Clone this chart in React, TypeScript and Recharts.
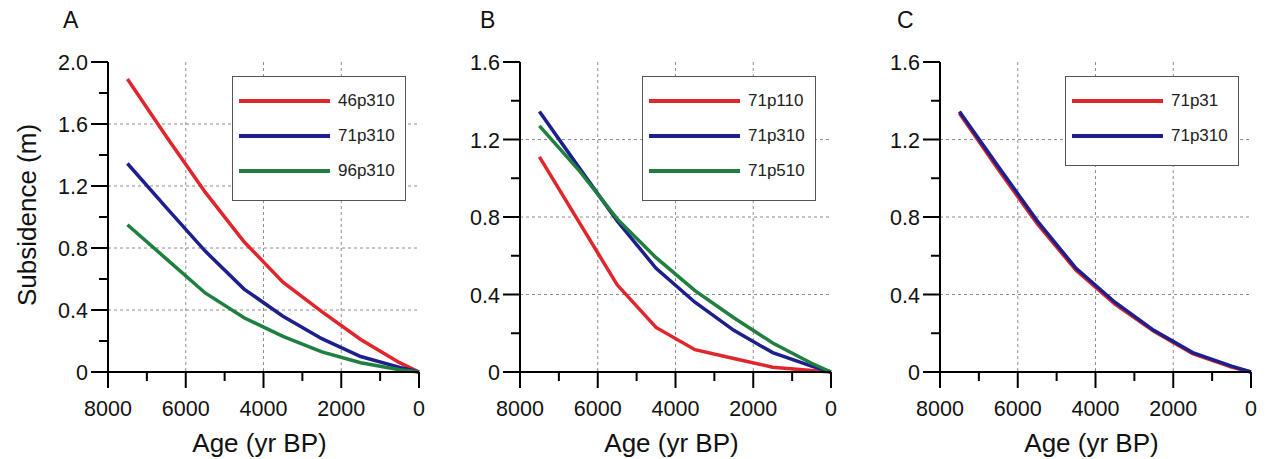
import { CartesianGrid, Label, Legend, Line, LineChart, XAxis, YAxis } from "recharts";

const ages = [7500, 6500, 5500, 4500, 3500, 2500, 1500, 500, 0];

const s46p310 = [1.89, 1.52, 1.16, 0.84, 0.58, 0.39, 0.21, 0.06, 0];
const s71p310 = [1.345, 1.06, 0.78, 0.535, 0.36, 0.215, 0.1, 0.03, 0];
const s96p310 = [0.95, 0.73, 0.51, 0.35, 0.23, 0.13, 0.06, 0.015, 0];
const s71p110 = [1.11, 0.78, 0.45, 0.23, 0.115, 0.07, 0.025, 0.008, 0];
const s71p510 = [1.27, 1.045, 0.79, 0.59, 0.42, 0.28, 0.15, 0.045, 0];
const s71p31 = [1.335, 1.045, 0.765, 0.525, 0.35, 0.21, 0.095, 0.025, 0];

const xTicks = [8000, 7000, 6000, 5000, 4000, 3000, 2000, 1000, 0];
const xGrid = [6000, 4000, 2000];
const yTicksA = [0, 0.2, 0.4, 0.6, 0.8, 1.0, 1.2, 1.4, 1.6, 1.8, 2.0];
const yTicksBC = [0, 0.2, 0.4, 0.6, 0.8, 1.0, 1.2, 1.4, 1.6];
const yGridA = [0.4, 0.8, 1.2, 1.6];
const yGridBC = [0.4, 0.8, 1.2];

const RED = "#e0252b";
const BLUE = "#1c1f8c";
const GREEN = "#1f7f3e";
const FONT = "'Liberation Sans', Arial, sans-serif";

type Series = { name: string; values: number[]; color: string };

function XTick({ x, y, payload }: any) {
  const major = payload.value % 2000 === 0;
  return (
    <g>
      <line x1={x} y1={y} x2={x} y2={y + (major ? 16 : 9)} stroke="#000" strokeWidth={2} />
      {major && (
        <text x={x} y={y + 44} textAnchor="middle" fontSize={21.5} fill="#111" fontFamily={FONT}>
          {payload.value}
        </text>
      )}
    </g>
  );
}

function YTick({ x, y, payload }: any) {
  const v = payload.value;
  const major = Math.round(v * 10) % 4 === 0;
  return (
    <g>
      <line x1={x - (major ? 17 : 9)} y1={y} x2={x} y2={y} stroke="#000" strokeWidth={2} />
      {major && (
        <text x={x - 20} y={y + 8} textAnchor="end" fontSize={21.5} fill="#111" fontFamily={FONT}>
          {v === 0 ? "0" : v.toFixed(1)}
        </text>
      )}
    </g>
  );
}

interface PanelProps {
  letter: string;
  left: number;
  width: number;
  yWidth: number;
  right: number;
  yMax: number;
  yTicks: number[];
  yGrid: number[];
  series: Series[];
  legendLeft: number;
  showYTitle?: boolean;
  letterLeft: number;
}

function Panel(p: PanelProps) {
  const rows = ages.map((age, i) => {
    const row: Record<string, number> = { age };
    p.series.forEach((s) => (row[s.name] = s.values[i]));
    return row;
  });

  const legendContent = () => (
    <div
      style={{
        width: 174,
        boxSizing: "border-box",
        border: "1.5px solid #555",
        background: "#fff",
        padding: "6px 0 12px 0",
        fontFamily: FONT,
      }}
    >
      {p.series.map((s) => (
        <div key={s.name} style={{ height: 35, display: "flex", alignItems: "center" }}>
          <div style={{ width: 91, height: 4, background: s.color, marginLeft: 6 }} />
          <span style={{ marginLeft: 8, fontSize: 17, color: "#222" }}>{s.name}</span>
        </div>
      ))}
    </div>
  );

  return (
    <div style={{ position: "absolute", left: p.left, top: 0 }}>
      <div
        style={{
          position: "absolute",
          left: p.letterLeft,
          top: 9,
          fontSize: 23,
          lineHeight: "23px",
          color: "#111",
          fontFamily: FONT,
        }}
      >
        {p.letter}
      </div>
      <LineChart
        width={p.width}
        height={459}
        data={rows}
        margin={{ top: 62, right: p.right, bottom: 0, left: 0 }}
      >
        <CartesianGrid
          horizontalValues={p.yGrid}
          verticalValues={xGrid}
          stroke="#8c8c8c"
          strokeDasharray="3 3"
        />
        <XAxis
          dataKey="age"
          type="number"
          domain={[0, 8000]}
          reversed
          ticks={xTicks}
          interval={0}
          height={87}
          tickSize={0}
          tickMargin={0}
          tickLine={false}
          tick={<XTick />}
          axisLine={{ stroke: "#000", strokeWidth: 2 }}
        >
          <Label
            content={({ viewBox }: any) => (
              <text
                x={viewBox.x + viewBox.width / 2 - 4}
                y={viewBox.y + 80}
                textAnchor="middle"
                fontSize={26}
                fill="#111"
                fontFamily={FONT}
              >
                Age (yr BP)
              </text>
            )}
          />
        </XAxis>
        <XAxis
          xAxisId="top"
          orientation="top"
          dataKey="age"
          type="number"
          domain={[0, 8000]}
          reversed
          height={0}
          tick={false}
          tickLine={false}
          axisLine={{ stroke: "#000", strokeWidth: 2 }}
        />
        <YAxis
          type="number"
          domain={[0, p.yMax]}
          ticks={p.yTicks}
          interval={0}
          width={p.yWidth}
          tickSize={0}
          tickMargin={0}
          tickLine={false}
          tick={<YTick />}
          axisLine={{ stroke: "#000", strokeWidth: 2 }}
        >
          {p.showYTitle && (
            <Label
              content={({ viewBox }: any) => {
                const cx = viewBox.x + 36;
                const cy = viewBox.y + viewBox.height / 2 - 2;
                return (
                  <text
                    x={cx}
                    y={cy}
                    transform={`rotate(-90, ${cx}, ${cy})`}
                    textAnchor="middle"
                    fontSize={26}
                    fill="#111"
                    fontFamily={FONT}
                  >
                    Subsidence (m)
                  </text>
                );
              }}
            />
          )}
        </YAxis>
        <YAxis
          yAxisId="right"
          orientation="right"
          type="number"
          domain={[0, p.yMax]}
          width={0}
          tick={false}
          tickLine={false}
          axisLine={{ stroke: "#000", strokeWidth: 2 }}
        />
        <Legend
          layout="vertical"
          align="center"
          verticalAlign="middle"
          content={legendContent}
          wrapperStyle={{ left: p.legendLeft, top: 76 }}
        />
        {p.series.map((s) => (
          <Line
            key={s.name}
            type="linear"
            dataKey={s.name}
            stroke={s.color}
            strokeWidth={3.5}
            dot={false}
            activeDot={false}
            isAnimationActive={false}
          />
        ))}
      </LineChart>
    </div>
  );
}

export default function App() {
  return (
    <div
      style={{
        position: "absolute",
        left: 0,
        top: 0,
        width: 1265,
        height: 459,
        background: "#fff",
        fontFamily: FONT,
      }}
    >
      <Panel
        letter="A"
        letterLeft={63}
        left={0}
        width={430}
        yWidth={108}
        right={11}
        yMax={2}
        yTicks={yTicksA}
        yGrid={yGridA}
        legendLeft={232}
        showYTitle
        series={[
          { name: "46p310", values: s46p310, color: RED },
          { name: "71p310", values: s71p310, color: BLUE },
          { name: "96p310", values: s96p310, color: GREEN },
        ]}
      />
      <Panel
        letter="B"
        letterLeft={50}
        left={430}
        width={420}
        yWidth={90}
        right={19}
        yMax={1.6}
        yTicks={yTicksBC}
        yGrid={yGridBC}
        legendLeft={212}
        series={[
          { name: "71p110", values: s71p110, color: RED },
          { name: "71p310", values: s71p310, color: BLUE },
          { name: "71p510", values: s71p510, color: GREEN },
        ]}
      />
      <Panel
        letter="C"
        letterLeft={47}
        left={850}
        width={415}
        yWidth={90}
        right={14}
        yMax={1.6}
        yTicks={yTicksBC}
        yGrid={yGridBC}
        legendLeft={215}
        series={[
          { name: "71p31", values: s71p31, color: RED },
          { name: "71p310", values: s71p310, color: BLUE },
        ]}
      />
    </div>
  );
}
